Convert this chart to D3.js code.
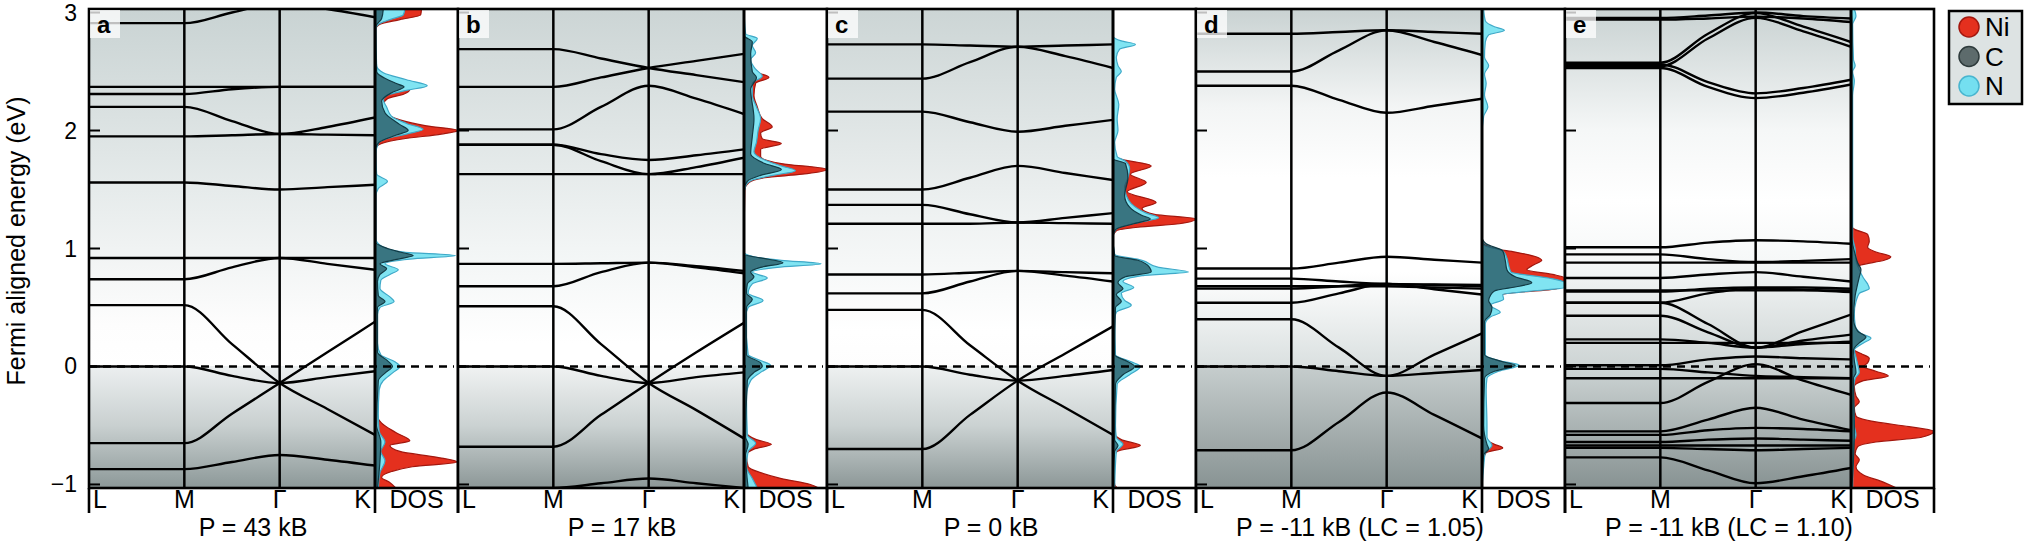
<!DOCTYPE html>
<html>
<head>
<meta charset="utf-8">
<script src="https://cdn.jsdelivr.net/npm/d3@7"></script>
<style>
  body { margin: 0; background: #fff; }
  svg { font-family: "Liberation Sans", Arial, Helvetica, sans-serif; }
</style>
</head>
<body>
<div id="chart"></div>
<script>
// k-path labels and the sample positions each band value sits at (L, M, mid, Γ, mid, K)
var kLabels = ["L", "M", "Γ", "K"];
var kSample = [0, 1, 1.5, 2, 2.5, 3];
var panelLetters = ["a", "b", "c", "d", "e"];
var pressureLabels = ["P = 43 kB", "P = 17 kB", "P = 0 kB", "P = -11 kB (LC = 1.05)", "P = -11 kB (LC = 1.10)"];
var yTicks = [-1, 0, 1, 2, 3];
var legendNames = ["Ni", "C", "N"];

// band energies (eV) at kSample
var bandsA = [
  [2.91, 2.91, 3.0, 3.08, 3.03, 2.96],
  [2.37, 2.37, 2.37, 2.37, 2.37, 2.37],
  [2.31, 2.31, 2.35, 2.37, 2.37, 2.37],
  [2.20, 2.20, 2.08, 1.97, 2.03, 2.11],
  [1.95, 1.95, 1.96, 1.97, 1.965, 1.96],
  [1.56, 1.56, 1.53, 1.50, 1.52, 1.54],
  [0.92, 0.92, 0.92, 0.92, 0.92, 0.92],
  [0.74, 0.74, 0.84, 0.92, 0.87, 0.82],
  [0.52, 0.52, 0.19, -0.14, -0.36, -0.58],
  [0.0, 0.0, -0.08, -0.14, -0.09, -0.04],
  [-0.65, -0.65, -0.40, -0.14, 0.12, 0.38],
  [-0.87, -0.87, -0.81, -0.75, -0.79, -0.84]
];
var bandsB = [
  [2.69, 2.69, 2.61, 2.53, 2.47, 2.41],
  [2.37, 2.37, 2.45, 2.53, 2.59, 2.65],
  [2.01, 2.01, 2.20, 2.38, 2.27, 2.14],
  [1.88, 1.88, 1.80, 1.75, 1.79, 1.84],
  [1.88, 1.88, 1.74, 1.63, 1.69, 1.77],
  [1.63, 1.63, 1.63, 1.63, 1.63, 1.63],
  [0.87, 0.87, 0.875, 0.88, 0.84, 0.79],
  [0.68, 0.68, 0.80, 0.88, 0.85, 0.81],
  [0.51, 0.51, 0.19, -0.14, -0.37, -0.61],
  [0.0, 0.0, -0.08, -0.14, -0.09, -0.05],
  [-0.68, -0.68, -0.41, -0.14, 0.12, 0.37],
  [-1.03, -1.03, -0.99, -0.95, -0.99, -1.03]
];
var bandsC = [
  [2.73, 2.73, 2.72, 2.71, 2.72, 2.73],
  [2.44, 2.44, 2.58, 2.71, 2.63, 2.53],
  [2.16, 2.16, 2.07, 1.99, 2.04, 2.09],
  [1.50, 1.50, 1.60, 1.70, 1.64, 1.58],
  [1.37, 1.37, 1.29, 1.22, 1.26, 1.30],
  [1.21, 1.21, 1.21, 1.22, 1.215, 1.21],
  [0.78, 0.78, 0.795, 0.81, 0.80, 0.79],
  [0.62, 0.62, 0.72, 0.81, 0.77, 0.72],
  [0.48, 0.48, 0.18, -0.12, -0.35, -0.58],
  [0.0, 0.0, -0.07, -0.12, -0.08, -0.03],
  [-0.70, -0.70, -0.41, -0.12, 0.11, 0.34]
];
var bandsD = [
  [2.82, 2.82, 2.835, 2.85, 2.835, 2.82],
  [2.50, 2.50, 2.68, 2.85, 2.75, 2.64],
  [2.38, 2.38, 2.26, 2.15, 2.21, 2.27],
  [0.83, 0.83, 0.88, 0.93, 0.905, 0.88],
  [0.745, 0.745, 0.72, 0.70, 0.695, 0.69],
  [0.68, 0.68, 0.68, 0.68, 0.67, 0.66],
  [0.66, 0.66, 0.68, 0.70, 0.655, 0.61],
  [0.54, 0.54, 0.62, 0.70, 0.69, 0.68],
  [0.40, 0.40, 0.16, -0.08, 0.10, 0.28],
  [0.0, 0.0, -0.04, -0.08, -0.055, -0.03],
  [-0.71, -0.71, -0.47, -0.22, -0.41, -0.61]
];
var bandsE = [
  [2.94, 2.94, 2.95, 2.965, 2.95, 2.92],
  [2.955, 2.955, 2.975, 3.0, 2.97, 2.95],
  [2.545, 2.545, 2.78, 2.955, 2.84, 2.71],
  [2.575, 2.575, 2.82, 2.995, 2.88, 2.75],
  [2.56, 2.56, 2.41, 2.315, 2.36, 2.43],
  [2.53, 2.53, 2.37, 2.275, 2.32, 2.39],
  [1.01, 1.01, 1.05, 1.07, 1.06, 1.04],
  [0.95, 0.95, 0.91, 0.885, 0.895, 0.91],
  [0.88, 0.88, 0.88, 0.88, 0.88, 0.88],
  [0.75, 0.75, 0.78, 0.80, 0.76, 0.72],
  [0.645, 0.645, 0.645, 0.645, 0.645, 0.645],
  [0.635, 0.635, 0.66, 0.67, 0.67, 0.66],
  [0.54, 0.54, 0.62, 0.66, 0.65, 0.63],
  [0.54, 0.54, 0.36, 0.16, 0.30, 0.44],
  [0.43, 0.43, 0.29, 0.16, 0.22, 0.27],
  [0.23, 0.23, 0.20, 0.16, 0.19, 0.21],
  [0.20, 0.20, 0.20, 0.20, 0.20, 0.20],
  [0.01, 0.01, 0.06, 0.085, 0.07, 0.06],
  [-0.02, -0.02, -0.05, -0.08, -0.09, -0.10],
  [-0.10, -0.10, -0.10, -0.10, -0.10, -0.10],
  [-0.31, -0.31, -0.13, 0.02, -0.12, -0.24],
  [-0.55, -0.55, -0.45, -0.35, -0.45, -0.54],
  [-0.58, -0.58, -0.54, -0.52, -0.53, -0.55],
  [-0.64, -0.64, -0.62, -0.61, -0.62, -0.63],
  [-0.67, -0.67, -0.67, -0.67, -0.67, -0.67],
  [-0.69, -0.69, -0.70, -0.71, -0.70, -0.69],
  [-0.77, -0.77, -0.88, -0.99, -0.93, -0.86]
];

// projected DOS, [energy eV, relative height]
var dosA_Ni = [[3.03,0.56],[2.98,0.55],[2.94,0.3],[2.90,0.06],[2.86,0.01],[2.6,0.01],[2.45,0.03],[2.40,0.15],[2.35,0.42],[2.31,0.35],[2.27,0.15],[2.22,0.1],[2.15,0.13],[2.09,0.3],[2.04,0.62],[2.0,1.0],[1.97,0.8],[1.93,0.35],[1.89,0.08],[1.85,0.01],[1.0,0.01],[0.9,0.03],[0.5,0.02],[-0.4,0.02],[-0.48,0.08],[-0.56,0.25],[-0.63,0.42],[-0.67,0.18],[-0.72,0.3],[-0.77,0.75],[-0.81,0.99],[-0.85,0.45],[-0.89,0.2],[-0.94,0.08],[-0.98,0.17],[-1.03,0.25]];
var dosA_N = [[3.03,0.36],[2.98,0.34],[2.94,0.18],[2.90,0.04],[2.86,0.01],[2.55,0.02],[2.49,0.1],[2.43,0.38],[2.38,0.63],[2.34,0.38],[2.30,0.15],[2.26,0.1],[2.2,0.14],[2.12,0.2],[2.06,0.38],[2.01,0.58],[1.97,0.38],[1.93,0.14],[1.89,0.04],[1.8,0.01],[1.63,0.02],[1.57,0.15],[1.51,0.04],[1.44,0.01],[1.08,0.01],[1.02,0.08],[0.97,0.35],[0.94,0.97],[0.91,0.42],[0.87,0.12],[0.82,0.28],[0.78,0.18],[0.73,0.07],[0.66,0.06],[0.59,0.18],[0.55,0.23],[0.5,0.06],[0.44,0.03],[0.2,0.03],[0.1,0.07],[0.04,0.24],[0.0,0.3],[-0.05,0.22],[-0.12,0.1],[-0.2,0.05],[-0.4,0.04],[-0.55,0.05],[-0.64,0.12],[-0.72,0.07],[-0.8,0.12],[-0.9,0.06],[-1.03,0.04]];
var dosA_C = [[3.03,0.1],[2.95,0.08],[2.88,0.01],[2.5,0.02],[2.4,0.25],[2.37,0.35],[2.32,0.2],[2.25,0.08],[2.15,0.12],[2.05,0.3],[2.0,0.4],[1.96,0.25],[1.9,0.05],[1.85,0.01],[1.05,0.01],[1.0,0.15],[0.97,0.3],[0.94,0.46],[0.91,0.28],[0.87,0.06],[0.83,0.14],[0.78,0.06],[0.72,0.03],[0.6,0.04],[0.55,0.12],[0.5,0.03],[0.12,0.03],[0.05,0.15],[0.0,0.21],[-0.05,0.13],[-0.12,0.04],[-0.5,0.02],[-0.64,0.07],[-0.8,0.06],[-1.03,0.03]];

var dosB_Ni = [[3.03,0.0],[2.55,0.0],[2.5,0.12],[2.45,0.3],[2.4,0.14],[2.3,0.12],[2.2,0.16],[2.1,0.22],[2.03,0.34],[1.98,0.2],[1.93,0.22],[1.89,0.45],[1.84,0.2],[1.78,0.2],[1.72,0.45],[1.67,1.0],[1.63,0.7],[1.6,0.25],[1.56,0.06],[1.5,0.01],[0.9,0.0],[-0.55,0.02],[-0.62,0.15],[-0.66,0.33],[-0.7,0.12],[-0.75,0.03],[-0.85,0.05],[-0.9,0.2],[-0.95,0.45],[-1.0,0.8],[-1.03,0.9]];
var dosB_N = [[3.03,0.0],[2.82,0.02],[2.78,0.16],[2.72,0.1],[2.66,0.14],[2.6,0.08],[2.52,0.14],[2.46,0.22],[2.4,0.1],[2.3,0.1],[2.2,0.15],[2.1,0.2],[2.0,0.17],[1.9,0.15],[1.82,0.12],[1.75,0.25],[1.7,0.45],[1.66,0.62],[1.62,0.35],[1.58,0.1],[1.53,0.02],[1.45,0.0],[0.97,0.0],[0.93,0.12],[0.9,0.45],[0.87,0.93],[0.84,0.4],[0.8,0.1],[0.75,0.28],[0.7,0.1],[0.62,0.05],[0.56,0.23],[0.5,0.05],[0.42,0.02],[0.1,0.05],[0.05,0.2],[0.01,0.32],[-0.05,0.2],[-0.12,0.08],[-0.25,0.03],[-0.58,0.04],[-0.65,0.14],[-0.72,0.05],[-0.85,0.03],[-0.95,0.1],[-1.03,0.16]];
var dosB_C = [[3.03,0.0],[2.8,0.01],[2.75,0.1],[2.65,0.08],[2.5,0.1],[2.45,0.15],[2.35,0.08],[2.1,0.12],[1.95,0.1],[1.8,0.08],[1.72,0.25],[1.67,0.45],[1.62,0.2],[1.57,0.04],[1.5,0.0],[0.95,0.0],[0.92,0.2],[0.88,0.47],[0.84,0.2],[0.8,0.08],[0.76,0.12],[0.7,0.04],[0.62,0.03],[0.57,0.1],[0.5,0.03],[0.1,0.03],[0.03,0.2],[0.0,0.22],[-0.05,0.12],[-0.12,0.04],[-0.6,0.02],[-0.66,0.05],[-0.75,0.02],[-1.03,0.05]];

var dosC_Ni = [[3.03,0.0],[1.8,0.0],[1.76,0.08],[1.70,0.46],[1.63,0.21],[1.56,0.40],[1.48,0.17],[1.39,0.52],[1.34,0.35],[1.29,0.5],[1.25,1.0],[1.21,0.8],[1.18,0.3],[1.15,0.04],[1.1,0.0],[-0.55,0.0],[-0.62,0.1],[-0.67,0.33],[-0.72,0.05],[-0.8,0.0],[-1.0,0.02],[-1.03,0.05]];
var dosC_N = [[3.03,0.0],[2.8,0.0],[2.76,0.1],[2.73,0.27],[2.69,0.08],[2.62,0.04],[2.55,0.06],[2.5,0.1],[2.45,0.04],[2.35,0.02],[2.22,0.07],[2.1,0.05],[2.0,0.06],[1.9,0.02],[1.78,0.05],[1.74,0.15],[1.68,0.2],[1.6,0.18],[1.52,0.14],[1.45,0.16],[1.38,0.22],[1.3,0.4],[1.26,0.55],[1.22,0.3],[1.17,0.05],[1.1,0.0],[0.95,0.02],[0.9,0.35],[0.84,0.55],[0.8,0.91],[0.77,0.35],[0.72,0.12],[0.67,0.25],[0.62,0.1],[0.56,0.14],[0.52,0.22],[0.46,0.04],[0.4,0.02],[0.1,0.03],[0.04,0.22],[0.0,0.33],[-0.07,0.2],[-0.15,0.05],[-0.5,0.03],[-0.6,0.04],[-0.66,0.12],[-0.72,0.04],[-1.03,0.02]];
var dosC_C = [[3.03,0.0],[1.76,0.0],[1.72,0.15],[1.6,0.18],[1.45,0.14],[1.35,0.2],[1.28,0.35],[1.25,0.45],[1.21,0.25],[1.16,0.03],[1.1,0.0],[0.94,0.02],[0.9,0.3],[0.84,0.44],[0.8,0.46],[0.76,0.15],[0.71,0.06],[0.66,0.12],[0.61,0.04],[0.55,0.1],[0.5,0.03],[0.1,0.02],[0.04,0.18],[0.0,0.26],[-0.07,0.12],[-0.15,0.03],[-0.62,0.02],[-0.67,0.06],[-0.72,0.02],[-1.03,0.0]];

var dosD_Ni = [[3.03,0.0],[1.06,0.0],[1.0,0.15],[0.97,0.4],[0.93,0.65],[0.9,0.72],[0.86,0.62],[0.82,0.54],[0.78,0.85],[0.75,1.0],[0.71,1.0],[0.66,0.9],[0.62,0.3],[0.58,0.05],[0.5,0.02],[-0.6,0.02],[-0.66,0.15],[-0.69,0.25],[-0.73,0.05],[-0.8,0.01],[-1.03,0.0]];
var dosD_N = [[3.03,0.02],[2.93,0.04],[2.88,0.15],[2.85,0.27],[2.81,0.08],[2.75,0.04],[2.62,0.03],[2.55,0.08],[2.48,0.03],[2.4,0.05],[2.3,0.03],[2.2,0.07],[2.12,0.02],[1.95,0.0],[1.1,0.0],[1.03,0.02],[0.98,0.25],[0.92,0.3],[0.86,0.32],[0.8,0.35],[0.75,0.8],[0.71,1.0],[0.67,1.0],[0.64,0.6],[0.61,0.25],[0.57,0.26],[0.52,0.1],[0.46,0.22],[0.42,0.1],[0.36,0.04],[0.1,0.04],[0.05,0.2],[0.01,0.45],[-0.04,0.2],[-0.1,0.06],[-0.2,0.05],[-0.5,0.06],[-0.6,0.06],[-0.67,0.12],[-0.73,0.04],[-0.85,0.02],[-1.03,0.0]];
var dosD_C = [[3.03,0.0],[1.1,0.0],[1.04,0.05],[0.98,0.25],[0.9,0.28],[0.82,0.3],[0.76,0.4],[0.71,0.6],[0.68,0.45],[0.64,0.15],[0.6,0.1],[0.56,0.08],[0.5,0.12],[0.44,0.1],[0.38,0.03],[0.1,0.03],[0.04,0.25],[0.01,0.4],[-0.04,0.15],[-0.1,0.03],[-0.5,0.02],[-0.66,0.06],[-0.7,0.08],[-0.75,0.02],[-1.03,0.0]];

var dosE_Ni = [[3.03,0.0],[1.2,0.0],[1.16,0.05],[1.12,0.2],[1.06,0.22],[1.01,0.2],[0.97,0.3],[0.93,0.48],[0.9,0.4],[0.86,0.12],[0.82,0.04],[0.6,0.02],[0.15,0.02],[0.11,0.12],[0.07,0.22],[0.03,0.2],[0.0,0.15],[-0.04,0.3],[-0.08,0.45],[-0.12,0.15],[-0.17,0.04],[-0.25,0.06],[-0.3,0.1],[-0.35,0.04],[-0.42,0.06],[-0.47,0.3],[-0.51,0.7],[-0.55,1.0],[-0.6,0.85],[-0.64,0.3],[-0.68,0.08],[-0.74,0.05],[-0.79,0.1],[-0.85,0.06],[-0.92,0.15],[-0.97,0.35],[-1.03,0.55]];
var dosE_N = [[3.03,0.04],[2.97,0.06],[2.9,0.02],[2.6,0.03],[2.55,0.05],[2.5,0.02],[2.42,0.04],[2.3,0.02],[1.1,0.02],[1.0,0.05],[0.9,0.06],[0.82,0.1],[0.75,0.15],[0.7,0.2],[0.66,0.22],[0.62,0.1],[0.55,0.06],[0.45,0.04],[0.35,0.05],[0.28,0.12],[0.24,0.24],[0.2,0.15],[0.14,0.04],[0.08,0.06],[0.02,0.08],[-0.05,0.1],[-0.1,0.05],[-0.2,0.03],[-0.5,0.04],[-0.58,0.06],[-0.65,0.03],[-1.03,0.02]];
var dosE_C = [[3.03,0.0],[2.9,0.01],[1.1,0.01],[0.95,0.05],[0.88,0.08],[0.82,0.12],[0.76,0.1],[0.7,0.08],[0.6,0.05],[0.4,0.03],[0.3,0.08],[0.25,0.18],[0.2,0.1],[0.14,0.03],[0.05,0.04],[-0.05,0.06],[-0.1,0.03],[-0.55,0.04],[-1.03,0.01]];

// background shading of each band panel: [energy, colour]
var bgStops = [
  [[3.03,"#c9d3d3"],[1.5,"#e6ebeb"],[0.35,"#fdfdfd"],[0.0,"#ffffff"],[0.0,"#eceff0"],[-0.5,"#c9d0d0"],[-1.03,"#8c9898"]],
  [[3.03,"#ccd5d5"],[1.0,"#f2f5f5"],[0.2,"#ffffff"],[0.0,"#ffffff"],[0.0,"#f0f2f2"],[-0.5,"#cbd2d2"],[-1.03,"#8c9797"]],
  [[3.03,"#ccd5d5"],[1.2,"#f0f3f3"],[0.3,"#ffffff"],[0.0,"#fdfdfd"],[0.0,"#eef1f1"],[-0.5,"#cbd2d2"],[-1.03,"#8c9797"]],
  [[3.03,"#c9d2d2"],[2.2,"#f3f5f5"],[1.6,"#ffffff"],[0.8,"#ffffff"],[0.0,"#dae0e0"],[0.0,"#c6cdcd"],[-1.03,"#889393"]],
  [[3.03,"#c9d2d2"],[2.0,"#f5f7f7"],[1.4,"#ffffff"],[0.9,"#f6f8f8"],[0.0,"#cdd4d4"],[-1.03,"#879292"]]
];

var colors = { Ni: "#e4301e", NiLine: "#a3170e", N: "#80e4f2", NLine: "#3fa9c8", C: "#1b4651", CLine: "#123a44" };

var W = 2025, H = 556;
var left0 = 89, stride = 369, bandW = 286, dosW = 83;
var plotTop = 9, plotBottom = 488;

var svg = d3.select("#chart").append("svg")
  .attr("width", W)
  .attr("height", H);
var defs = svg.append("defs");

var y = d3.scaleLinear().domain([-1.03, 3.03]).range([plotBottom, plotTop]);

var panels = [
  { bands: bandsA, ni: dosA_Ni, n: dosA_N, c: dosA_C },
  { bands: bandsB, ni: dosB_Ni, n: dosB_N, c: dosB_C },
  { bands: bandsC, ni: dosC_Ni, n: dosC_N, c: dosC_C },
  { bands: bandsD, ni: dosD_Ni, n: dosD_N, c: dosD_C },
  { bands: bandsE, ni: dosE_Ni, n: dosE_N, c: dosE_C }
];

panels.forEach(function(p, i) {
  var left = left0 + i * stride;
  var x = d3.scaleLinear().domain([0, 3]).range([left, left + bandW]);
  var kEnd = x(3);
  var dx = d3.scaleLinear().domain([0, 1]).range([kEnd, kEnd + dosW]);
  var right = dx(1);
  var g = svg.append("g");

  // gradient background
  var grad = defs.append("linearGradient")
    .attr("id", "bg" + i)
    .attr("gradientUnits", "userSpaceOnUse")
    .attr("x1", 0).attr("x2", 0)
    .attr("y1", plotTop).attr("y2", plotBottom);
  grad.selectAll("stop")
    .data(bgStops[i])
    .enter()
    .append("stop")
    .attr("offset", function(d) { return (y(d[0]) - plotTop) / (plotBottom - plotTop); })
    .attr("stop-color", function(d) { return d[1]; });

  defs.append("clipPath").attr("id", "clipB" + i)
    .append("rect").attr("x", left).attr("y", plotTop).attr("width", bandW).attr("height", plotBottom - plotTop);
  defs.append("clipPath").attr("id", "clipD" + i)
    .append("rect").attr("x", kEnd).attr("y", plotTop).attr("width", dosW).attr("height", plotBottom - plotTop);

  g.append("rect")
    .attr("x", left).attr("y", plotTop)
    .attr("width", bandW).attr("height", plotBottom - plotTop)
    .attr("fill", "url(#bg" + i + ")");
  g.append("rect")
    .attr("x", kEnd).attr("y", plotTop)
    .attr("width", dosW).attr("height", plotBottom - plotTop)
    .attr("fill", "#fff");

  // high-symmetry lines
  g.selectAll(".kline")
    .data([1, 2])
    .enter()
    .append("line")
    .attr("x1", function(d) { return x(d); })
    .attr("x2", function(d) { return x(d); })
    .attr("y1", plotTop).attr("y2", plotBottom)
    .attr("stroke", "#000").attr("stroke-width", 2.5);

  // DOS
  var area = d3.area()
    .y(function(d) { return y(d[0]); })
    .x0(dx(0))
    .x1(function(d) { return dx(d[1]); })
    .curve(d3.curveMonotoneY);
  var dg = g.append("g").attr("clip-path", "url(#clipD" + i + ")");
  dg.append("path").attr("d", area(p.ni))
    .attr("fill", colors.Ni).attr("stroke", colors.NiLine).attr("stroke-width", 1.2);
  dg.append("path").attr("d", area(p.n))
    .attr("fill", colors.N).attr("stroke", colors.NLine).attr("stroke-width", 1.2);
  dg.append("path").attr("d", area(p.c))
    .attr("fill", colors.C).attr("fill-opacity", 0.7)
    .attr("stroke", colors.CLine).attr("stroke-width", 1.2);

  // Fermi level
  g.append("line")
    .attr("x1", left).attr("x2", right - 4)
    .attr("y1", y(0)).attr("y2", y(0))
    .attr("stroke", "#000").attr("stroke-width", 2.4)
    .attr("stroke-dasharray", "8,6");

  // bands
  var line = d3.line()
    .x(function(d, j) { return x(kSample[j]); })
    .y(function(d) { return y(d); })
    .curve(d3.curveMonotoneX);
  g.append("g").attr("clip-path", "url(#clipB" + i + ")")
    .selectAll("path")
    .data(p.bands)
    .enter()
    .append("path")
    .attr("d", line)
    .attr("fill", "none")
    .attr("stroke", "#000")
    .attr("stroke-width", 2.4);

  // frame
  g.append("rect")
    .attr("x", left).attr("y", plotTop)
    .attr("width", right - left).attr("height", plotBottom - plotTop)
    .attr("fill", "none").attr("stroke", "#000").attr("stroke-width", 2.6);
  g.append("line")
    .attr("x1", kEnd).attr("x2", kEnd)
    .attr("y1", plotTop).attr("y2", plotBottom)
    .attr("stroke", "#000").attr("stroke-width", 3);

  // inward y ticks
  g.selectAll(".ytick")
    .data(yTicks)
    .enter()
    .append("line")
    .attr("x1", left).attr("x2", left + 11)
    .attr("y1", function(d) { return y(d); })
    .attr("y2", function(d) { return y(d); })
    .attr("stroke", "#000").attr("stroke-width", 2);

  // separators below the axis
  g.selectAll(".sep")
    .data([left, kEnd, right])
    .enter()
    .append("line")
    .attr("x1", function(d) { return d; })
    .attr("x2", function(d) { return d; })
    .attr("y1", plotBottom).attr("y2", plotBottom + 25)
    .attr("stroke", "#000").attr("stroke-width", 2.6);

  // k labels
  var kl = [
    { t: kLabels[0], x: x(0) + 4, a: "start" },
    { t: kLabels[1], x: x(1), a: "middle" },
    { t: kLabels[2], x: x(2), a: "middle" },
    { t: kLabels[3], x: x(3) - 4, a: "end" },
    { t: "DOS", x: (kEnd + right) / 2, a: "middle" }
  ];
  g.selectAll(".klab")
    .data(kl)
    .enter()
    .append("text")
    .attr("x", function(d) { return d.x; })
    .attr("y", plotBottom + 20)
    .attr("text-anchor", function(d) { return d.a; })
    .attr("font-size", 25)
    .text(function(d) { return d.t; });

  g.append("text")
    .attr("x", left + 164)
    .attr("y", plotBottom + 48)
    .attr("text-anchor", "middle")
    .attr("font-size", 25)
    .text(pressureLabels[i]);

  // panel letter
  g.append("rect")
    .attr("x", left + 1).attr("y", plotTop + 1)
    .attr("width", 30).attr("height", 28)
    .attr("fill", "#fff").attr("fill-opacity", 0.75);
  g.append("text")
    .attr("x", left + 8)
    .attr("y", plotTop + 24)
    .attr("font-size", 24)
    .attr("font-weight", "bold")
    .text(panelLetters[i]);
});

// y tick labels (first panel only)
svg.selectAll(".ylab")
  .data(yTicks)
  .enter()
  .append("text")
  .attr("x", 77)
  .attr("y", function(d) { return y(d) + 8; })
  .attr("text-anchor", "end")
  .attr("font-size", 23)
  .text(function(d) { return d < 0 ? "\u2212" + Math.abs(d) : d; });

svg.append("text")
  .attr("transform", "translate(25,241) rotate(-90)")
  .attr("text-anchor", "middle")
  .attr("font-size", 25)
  .text("Fermi aligned energy (eV)");

// legend
var lg = svg.append("g");
lg.append("rect")
  .attr("x", 1949).attr("y", 11)
  .attr("width", 73).attr("height", 93)
  .attr("fill", "#dde3e3").attr("stroke", "#000").attr("stroke-width", 2.5);
var legFill = [colors.Ni, "#5d6b6c", "#74dff0"];
var legLine = [colors.NiLine, "#2e3b3c", "#48b5cf"];
lg.selectAll("circle")
  .data(legendNames)
  .enter()
  .append("circle")
  .attr("cx", 1969)
  .attr("cy", function(d, i) { return 27 + i * 29.5; })
  .attr("r", 10)
  .attr("fill", function(d, i) { return legFill[i]; })
  .attr("stroke", function(d, i) { return legLine[i]; })
  .attr("stroke-width", 1.5);
lg.selectAll("text")
  .data(legendNames)
  .enter()
  .append("text")
  .attr("x", 1985)
  .attr("y", function(d, i) { return 36 + i * 29.5; })
  .attr("font-size", 26)
  .text(function(d) { return d; });
</script>
</body>
</html>
